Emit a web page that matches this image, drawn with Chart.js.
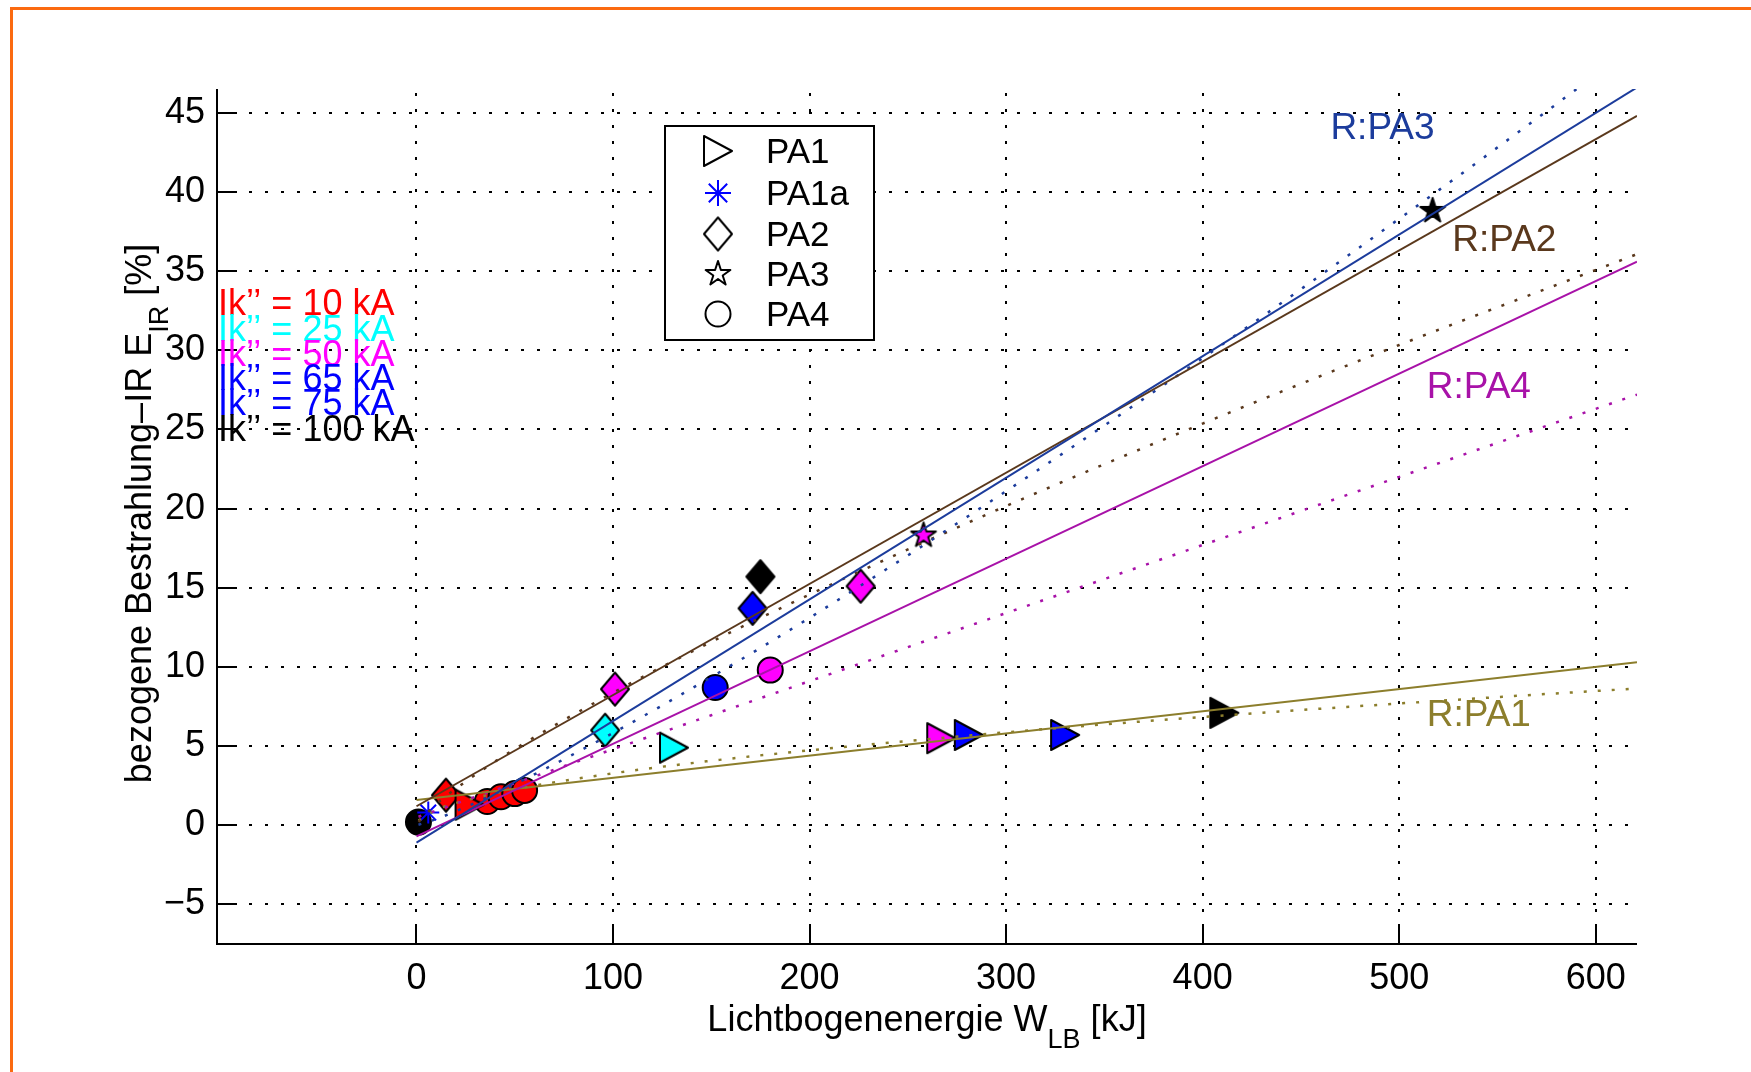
<!DOCTYPE html>
<html>
<head>
<meta charset="utf-8">
<script src="https://cdn.jsdelivr.net/npm/chart.js@4.4.1/dist/chart.umd.min.js"></script>
<style>
  html, body { margin: 0; padding: 0; background: #fff; }
  #wrap { width: 1751px; height: 1072px; }
</style>
</head>
<body>
<div id="wrap"><canvas id="chart" width="1751" height="1072"></canvas></div>
<script>
// measurements: x = arc energy [kJ], y = relative IR exposure [%], ik = short-circuit current [kA]
const pa1X = [27, 131, 267, 281, 330, 411];
const pa1Y = [1.3, 4.9, 5.5, 5.7, 5.7, 7.1];
const pa1Ik = [10, 25, 50, 65, 75, 100];

const pa1aX = [6];
const pa1aY = [0.8];

const pa2X = [15, 96, 101, 171, 175, 226];
const pa2Y = [1.9, 6.0, 8.6, 13.7, 15.7, 15.1];
const pa2Ik = [10, 25, 50, 65, 100, 50];

const pa3X = [258, 517];
const pa3Y = [18.3, 38.8];
const pa3Ik = [50, 100];

const pa4X = [1, 36, 43, 50, 55, 152, 180];
const pa4Y = [0.2, 1.5, 1.8, 2.0, 2.2, 8.7, 9.8];
const pa4Ik = [100, 10, 10, 10, 10, 65, 50];

// solid regression lines, read at both ends
const regX = [0, 621];
const regPA1 = [1.6, 10.3];
const regPA2 = [1.2, 44.8];
const regPA3 = [-1.1, 46.6];
const regPA4 = [-0.7, 35.6];

// dotted fit curves, read along x
const fitX = [1, 10, 25, 50, 100, 150, 200, 300, 400, 500, 600, 621];
const fitPA1 = [0.29, 0.97, 1.57, 2.27, 3.28, 4.07, 4.73, 5.87, 6.84, 7.69, 8.48, 8.63];
const fitPA2 = [0.21, 1.33, 2.76, 4.81, 8.37, 11.58, 14.57, 20.16, 25.37, 30.33, 35.07, 36.07];
const fitPA3 = [0.03, 0.39, 1.15, 2.59, 5.83, 9.36, 13.1, 21.1, 29.5, 38.3, 47.4, 49.4];
const fitPA4 = [0.54, 0.93, 1.58, 2.65, 4.8, 6.95, 9.1, 13.4, 17.7, 22.0, 26.3, 27.2];

const xTicks = [0, 100, 200, 300, 400, 500, 600];
const yTicks = [-5, 0, 5, 10, 15, 20, 25, 30, 35, 40, 45];
const ikLevels = [10, 25, 50, 65, 75, 100];

const FONT = '"Liberation Sans", Arial, Helvetica, sans-serif';
const ikColor = {10: '#ff0000', 25: '#00ffff', 50: '#ff00ff', 65: '#0000ff', 75: '#0000ff', 100: '#000000'};
const OLIVE = '#8c7e2c', BROWN = '#5a381c', DBLUE = '#1c3c9c', PURPLE = '#a812a8';

function pts(xs, ys) {
  return xs.map((x, i) => ({x: x, y: ys[i]}));
}

// matlab-like markers as small canvases
function makeMarker(shape, fill) {
  const w = shape === 'star' ? 26 : 28;
  const h = shape === 'diamond' ? 33 : (shape === 'tri' ? 30 : 26);
  const c = document.createElement('canvas');
  c.width = w + 4; c.height = h + 4;
  const g = c.getContext('2d');
  g.translate(c.width / 2, c.height / 2);
  g.beginPath();
  if (shape === 'tri') {
    g.moveTo(-w / 2, -h / 2); g.lineTo(w / 2, 0); g.lineTo(-w / 2, h / 2);
  } else if (shape === 'diamond') {
    g.moveTo(0, -h / 2); g.lineTo(w / 2, 0); g.lineTo(0, h / 2); g.lineTo(-w / 2, 0);
  } else {
    for (let k = 0; k < 10; k++) {
      const r = k % 2 ? w * 0.19 : w / 2;
      const a = -Math.PI / 2 + k * Math.PI / 5;
      if (k === 0) g.moveTo(r * Math.cos(a), r * Math.sin(a));
      else g.lineTo(r * Math.cos(a), r * Math.sin(a));
    }
  }
  g.closePath();
  g.fillStyle = fill; g.fill();
  g.lineWidth = 2; g.lineJoin = 'round'; g.strokeStyle = '#000'; g.stroke();
  return c;
}

function solid(label, ys, color) {
  return {label: label, data: pts(regX, ys), showLine: true, borderColor: color, borderWidth: 2,
          pointRadius: 0, order: 0};
}
function dotted(label, ys, color) {
  return {label: label, data: pts(fitX, ys), showLine: true, borderColor: color, borderWidth: 2.5,
          borderDash: [3, 11], cubicInterpolationMode: 'monotone', pointRadius: 0, order: 0};
}

const bgPlugin = {
  id: 'bg',
  beforeDraw(chart) {
    const ctx = chart.ctx;
    ctx.save();
    ctx.fillStyle = '#fff';
    ctx.fillRect(0, 0, chart.width, chart.height);
    ctx.fillStyle = '#fb6a10';
    ctx.fillRect(10, 7, chart.width - 10, 3);
    ctx.fillRect(10, 7, 3, chart.height - 7);
    ctx.restore();
  }
};

const gridPlugin = {
  id: 'matlabGrid',
  beforeDatasetsDraw(chart) {
    const {ctx, chartArea: a, scales: {x, y}} = chart;
    ctx.save();
    ctx.strokeStyle = '#000';
    ctx.lineWidth = 2;
    ctx.setLineDash([3, 13]);
    xTicks.forEach(v => {
      const px = Math.round(x.getPixelForValue(v));
      ctx.beginPath(); ctx.moveTo(px, a.bottom); ctx.lineTo(px, a.top); ctx.stroke();
    });
    yTicks.forEach(v => {
      const py = Math.round(y.getPixelForValue(v));
      ctx.beginPath(); ctx.moveTo(a.left, py); ctx.lineTo(a.right, py); ctx.stroke();
    });
    ctx.restore();
  }
};

const overlayPlugin = {
  id: 'overlay',
  afterDatasetsDraw(chart) {
    const {ctx, chartArea: a, scales: {x, y}} = chart;
    ctx.save();

    // axes lines + inward ticks
    ctx.strokeStyle = '#000';
    ctx.lineWidth = 2;
    ctx.beginPath();
    ctx.moveTo(a.left, a.top); ctx.lineTo(a.left, a.bottom); ctx.lineTo(a.right, a.bottom);
    ctx.stroke();
    yTicks.forEach(v => {
      const py = Math.round(y.getPixelForValue(v));
      ctx.beginPath(); ctx.moveTo(a.left, py); ctx.lineTo(a.left + 20, py); ctx.stroke();
    });
    xTicks.forEach(v => {
      const px = Math.round(x.getPixelForValue(v));
      ctx.beginPath(); ctx.moveTo(px, a.bottom); ctx.lineTo(px, a.bottom - 20); ctx.stroke();
    });

    // Ik'' color key
    const ikY = [32.2, 30.6, 29.0, 27.5, 25.9, 24.3];
    ctx.font = '36px ' + FONT;
    ctx.textAlign = 'left';
    ctx.textBaseline = 'alphabetic';
    ikLevels.forEach((k, i) => {
      ctx.fillStyle = ikColor[k];
      ctx.fillText('Ik\u2019\u2019 = ' + k + ' kA', a.left + 1, y.getPixelForValue(ikY[i]));
    });

    // regression labels
    ctx.font = '37px ' + FONT;
    ctx.textBaseline = 'middle';
    [['R:PA3', 465, 44.0, DBLUE], ['R:PA2', 527, 36.9, BROWN],
     ['R:PA4', 514, 27.6, PURPLE], ['R:PA1', 514, 6.9, OLIVE]].forEach(r => {
      ctx.fillStyle = r[3];
      ctx.fillText(r[0], x.getPixelForValue(r[1]), y.getPixelForValue(r[2]));
    });

    // legend box
    const lx = 665, ly = 126, lw = 209, lh = 214;
    ctx.fillStyle = '#fff';
    ctx.fillRect(lx, ly, lw, lh);
    ctx.strokeStyle = '#000';
    ctx.lineWidth = 2;
    ctx.strokeRect(lx, ly, lw, lh);
    const rowY = [151, 193, 234, 274, 314];
    const names = ['PA1', 'PA1a', 'PA2', 'PA3', 'PA4'];
    const mx = 718;
    [makeMarker('tri', '#fff'), null, makeMarker('diamond', '#fff'), makeMarker('star', '#fff'), null]
      .forEach((img, i) => {
        if (img) ctx.drawImage(img, mx - img.width / 2, rowY[i] - img.height / 2);
      });
    ctx.beginPath();
    ctx.arc(mx, rowY[4], 12.5, 0, Math.PI * 2);
    ctx.fillStyle = '#fff'; ctx.fill(); ctx.stroke();
    ctx.strokeStyle = '#0000ff';
    Chart.helpers.drawPoint(ctx, {pointStyle: 'star', radius: 13, borderWidth: 2, rotation: 0}, mx, rowY[1]);
    ctx.fillStyle = '#000';
    ctx.font = '35px ' + FONT;
    ctx.textBaseline = 'alphabetic';
    names.forEach((n, i) => ctx.fillText(n, 766, rowY[i] + 12));

    ctx.restore();
  },
  afterDraw(chart) {
    const {ctx, chartArea: a} = chart;
    ctx.save();
    ctx.fillStyle = '#000';
    ctx.textBaseline = 'alphabetic';
    ctx.textAlign = 'left';
    const big = '36px ' + FONT, small = '27px ' + FONT;

    // x title with subscript
    ctx.font = big;
    const x1 = 'Lichtbogenenergie W', x3 = ' [kJ]';
    const w1 = ctx.measureText(x1).width, w3 = ctx.measureText(x3).width;
    ctx.font = small;
    const w2 = ctx.measureText('LB').width;
    let sx = (a.left + a.right) / 2 - (w1 + w2 + w3) / 2;
    const by = 1031;
    ctx.font = big; ctx.fillText(x1, sx, by);
    ctx.font = small; ctx.fillText('LB', sx + w1, by + 17);
    ctx.font = big; ctx.fillText(x3, sx + w1 + w2, by);

    // y title, rotated, with subscript
    ctx.translate(151, (a.top + a.bottom) / 2 - 3);
    ctx.rotate(-Math.PI / 2);
    ctx.font = big;
    const y1 = 'bezogene Bestrahlung\u2013IR E', y3 = ' [%]';
    const v1 = ctx.measureText(y1).width, v3 = ctx.measureText(y3).width;
    ctx.font = small;
    const v2 = ctx.measureText('IR').width;
    sx = -(v1 + v2 + v3) / 2;
    ctx.font = big; ctx.fillText(y1, sx, 0);
    ctx.font = small; ctx.fillText('IR', sx + v1, 17);
    ctx.font = big; ctx.fillText(y3, sx + v1 + v2, 0);
    ctx.restore();
  }
};

new Chart(document.getElementById('chart').getContext('2d'), {
  type: 'scatter',
  data: {
    datasets: [
      solid('R:PA3', regPA3, DBLUE),
      solid('R:PA2', regPA2, BROWN),
      solid('R:PA4', regPA4, PURPLE),
      solid('R:PA1', regPA1, OLIVE),
      dotted('fit PA3', fitPA3, DBLUE),
      dotted('fit PA2', fitPA2, BROWN),
      dotted('fit PA4', fitPA4, PURPLE),
      dotted('fit PA1', fitPA1, OLIVE),
      {label: 'PA1', data: pts(pa1X, pa1Y), pointStyle: pa1Ik.map(k => makeMarker('tri', ikColor[k])),
       pointRadius: 12, order: 1},
      {label: 'PA1a', data: pts(pa1aX, pa1aY), pointStyle: 'star', pointRadius: 11,
       pointBorderColor: '#0000ff', pointBorderWidth: 2, order: 1},
      {label: 'PA2', data: pts(pa2X, pa2Y), pointStyle: pa2Ik.map(k => makeMarker('diamond', ikColor[k])),
       pointRadius: 12, order: 1},
      {label: 'PA3', data: pts(pa3X, pa3Y), pointStyle: pa3Ik.map(k => makeMarker('star', ikColor[k])),
       pointRadius: 12, order: 1},
      {label: 'PA4', data: pts(pa4X, pa4Y), pointStyle: 'circle', pointRadius: 12.5,
       pointBackgroundColor: pa4Ik.map(k => ikColor[k]), pointBorderColor: '#000', pointBorderWidth: 2, order: 1}
    ]
  },
  options: {
    responsive: false,
    devicePixelRatio: 1,
    animation: false,
    events: [],
    layout: {padding: {top: 89, right: 114, bottom: 0, left: 0}},
    plugins: {legend: {display: false}, tooltip: {enabled: false}},
    scales: {
      x: {
        type: 'linear', min: -101.5, max: 621,
        afterFit: s => { s.height = 128; },
        afterBuildTicks: s => { s.ticks = xTicks.map(v => ({value: v})); },
        grid: {display: false, drawTicks: false},
        border: {display: false},
        ticks: {color: '#000', font: {family: FONT, size: 36}, padding: 13, autoSkip: false, maxRotation: 0}
      },
      y: {
        type: 'linear', min: -7.5, max: 46.5,
        afterFit: s => { s.width = 217; },
        afterBuildTicks: s => { s.ticks = yTicks.map(v => ({value: v})); },
        grid: {display: false, drawTicks: false},
        border: {display: false},
        ticks: {color: '#000', font: {family: FONT, size: 36}, padding: 12, autoSkip: false,
                callback: v => v < 0 ? '\u2212' + Math.abs(v) : String(v)}
      }
    }
  },
  plugins: [bgPlugin, gridPlugin, overlayPlugin]
});
</script>
</body>
</html>
